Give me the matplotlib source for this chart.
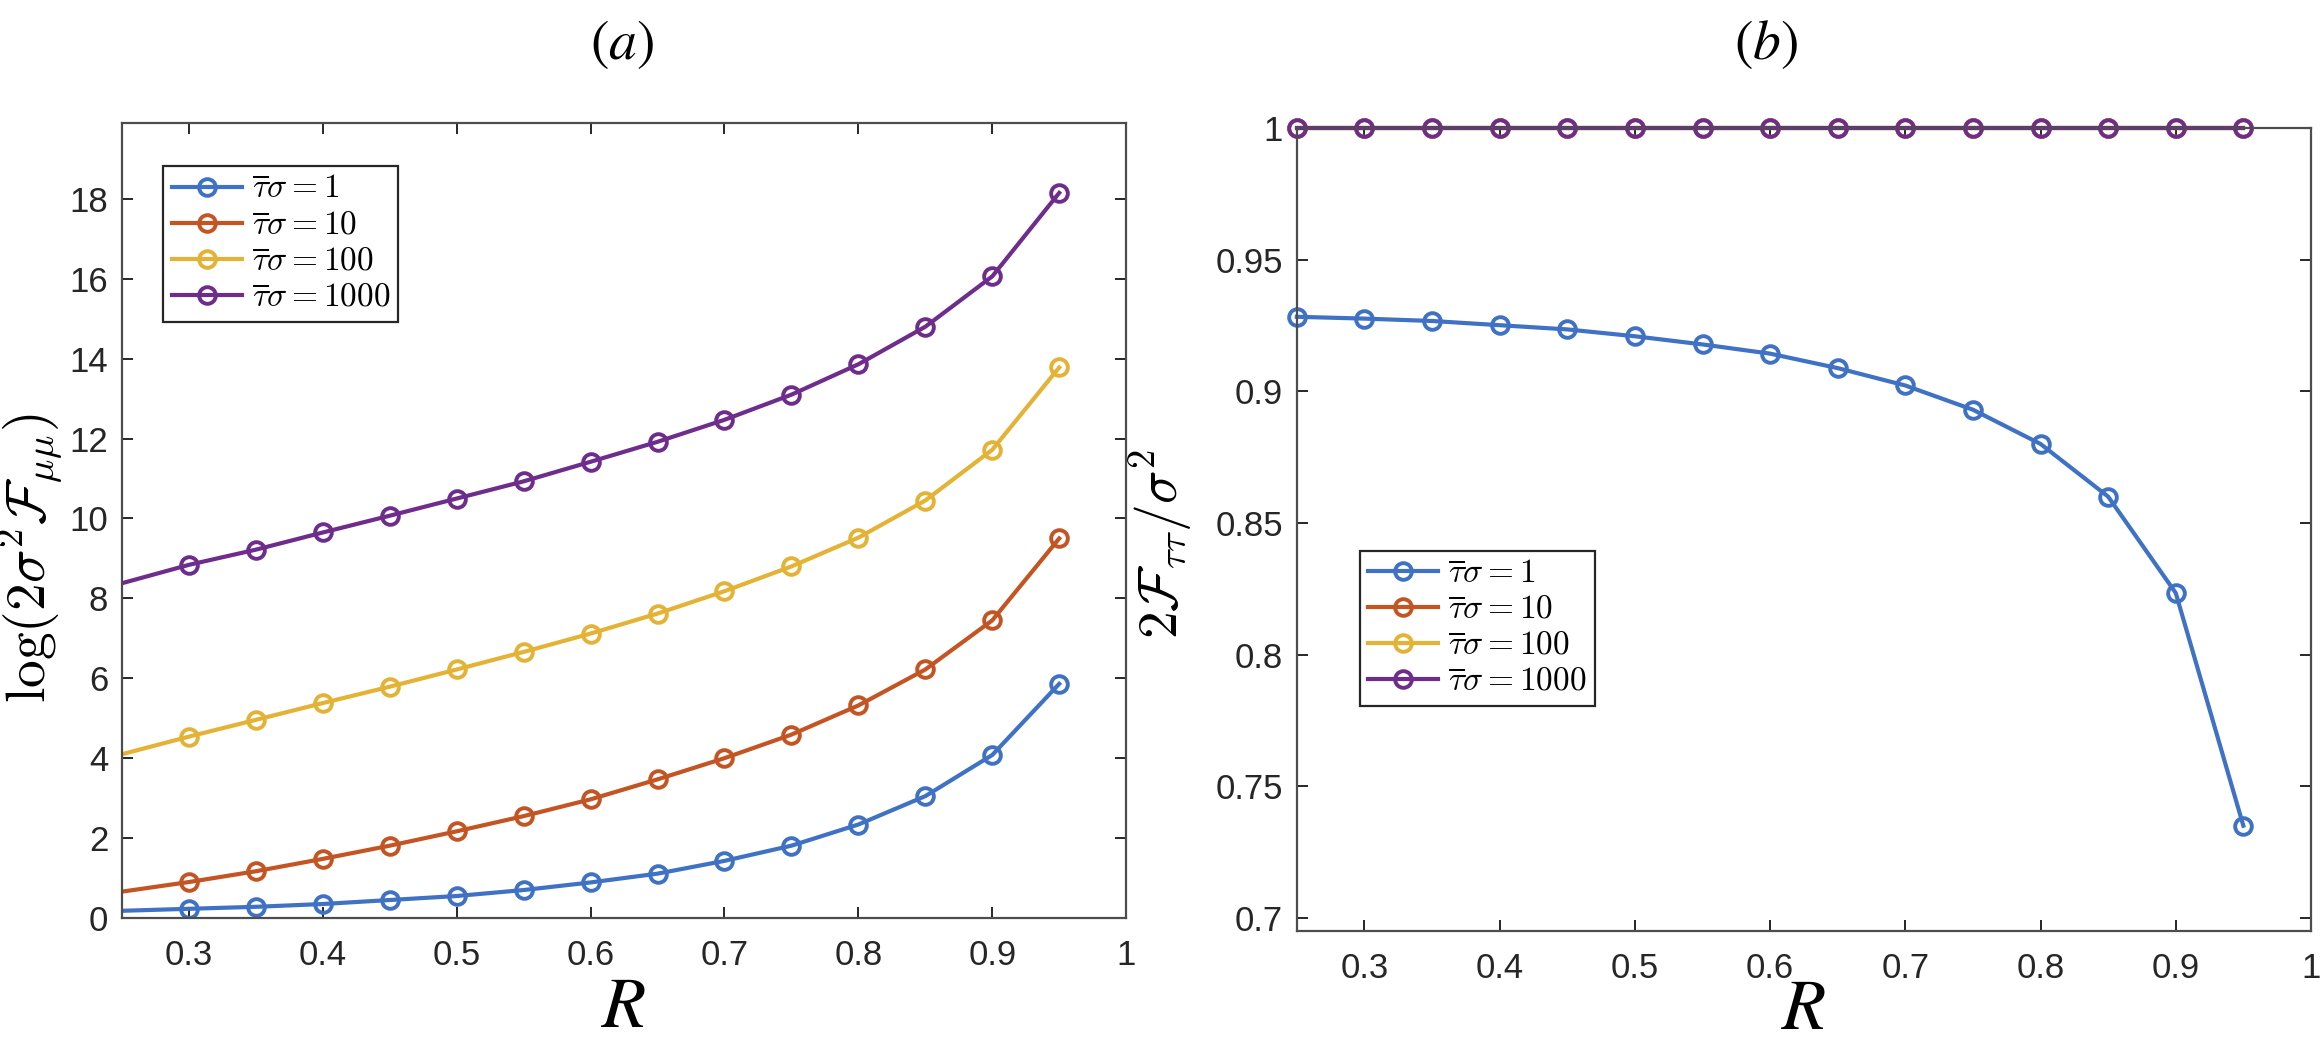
import matplotlib
matplotlib.use('Agg')
import matplotlib.pyplot as plt
import numpy as np

plt.rcParams['font.family'] = ['Liberation Sans', 'DejaVu Sans']

# R grid (left panel first value is read at the clipped left edge)
R_a = [0.25, 0.3, 0.35, 0.4, 0.45, 0.5, 0.55, 0.6, 0.65, 0.7, 0.75, 0.8, 0.85, 0.9, 0.95]
R_b = [0.25, 0.3, 0.35, 0.4, 0.45, 0.5, 0.55, 0.6, 0.65, 0.7, 0.75, 0.8, 0.85, 0.9, 0.95]

# (a) log(2 sigma^2 F_mumu)
a_1 = [0.18, 0.23, 0.28, 0.35, 0.45, 0.55, 0.70, 0.89, 1.11, 1.43, 1.81, 2.34, 3.05, 4.08, 5.86]
a_10 = [0.66, 0.90, 1.17, 1.48, 1.81, 2.17, 2.55, 2.97, 3.47, 4.00, 4.59, 5.32, 6.22, 7.45, 9.50]
a_100 = [4.10, 4.54, 4.96, 5.38, 5.79, 6.22, 6.66, 7.12, 7.62, 8.18, 8.80, 9.52, 10.45, 11.72, 13.78]
a_1000 = [8.38, 8.84, 9.22, 9.65, 10.07, 10.50, 10.93, 11.42, 11.92, 12.47, 13.10, 13.86, 14.80, 16.06, 18.15]

# (b) 2 F_tautau / sigma^2
b_1 = [0.9283, 0.9276, 0.9267, 0.9251, 0.9235, 0.9209, 0.9178, 0.9143, 0.9088, 0.9022, 0.8930, 0.8800, 0.8600, 0.8234, 0.7350]
b_10 = [1.0] * 15
b_100 = [1.0] * 15
b_1000 = [1.0] * 15

labels = [r'$\overline{\tau}\sigma = 1$', r'$\overline{\tau}\sigma = 10$',
          r'$\overline{\tau}\sigma = 100$', r'$\overline{\tau}\sigma = 1000$']
colors = ['#3f72c4', '#c55423', '#e4b234', '#6e2d8c']
xticks = [0.3, 0.4, 0.5, 0.6, 0.7, 0.8, 0.9, 1]
xticklabels = ['0.3', '0.4', '0.5', '0.6', '0.7', '0.8', '0.9', '1']

fig = plt.figure(figsize=(11.6, 5.22), dpi=200)
ax1 = fig.add_axes([0.0526, 0.1207, 0.4328, 0.7615])
ax2 = fig.add_axes([0.559, 0.1082, 0.4371, 0.7692])

line_kw = dict(marker='o', markersize=6, markerfacecolor='none',
               markeredgewidth=1.4, linewidth=1.5)

for y, c, lab in zip([a_1, a_10, a_100, a_1000], colors, labels):
    ax1.plot(R_a, y, color=c, label=lab, markevery=list(range(1, len(R_a))), **line_kw)

for y, c, lab in zip([b_1, b_10, b_100, b_1000], colors, labels):
    ax2.plot(R_b, y, color=c, label=lab, clip_on=False, **line_kw)

ax1.set_xlim(0.25, 1)
ax1.set_ylim(0, 19.9)
ax1.set_yticks(np.arange(0, 19, 2))
ax1.set_xticks(xticks)
ax1.set_xticklabels(xticklabels)

ax2.set_xlim(0.25, 1)
ax2.set_ylim(0.695, 1.0)
ax2.set_yticks([0.7, 0.75, 0.8, 0.85, 0.9, 0.95, 1])
ax2.set_yticklabels(['0.7', '0.75', '0.8', '0.85', '0.9', '0.95', '1'])
ax2.set_xticks(xticks)
ax2.set_xticklabels(xticklabels)

for ax in (ax1, ax2):
    ax.tick_params(direction='in', length=4, width=0.7, colors='#262626',
                   labelsize=12.5, top=True, right=True)
    ax.tick_params(axis='x', pad=7.5)
    ax.tick_params(axis='y', pad=5)
    for s in ax.spines.values():
        s.set_color('#4d4d4d')
        s.set_linewidth(0.8)

ax1.set_xlabel(r'$R$', fontsize=26, math_fontfamily='stix', labelpad=1)
ax2.set_xlabel(r'$R$', fontsize=26, math_fontfamily='stix', labelpad=-3)

ax1.set_ylabel(r'$\log(2\sigma^2\mathcal{F}_{\mu\mu})$', fontsize=20,
               math_fontfamily='cm')
ax1.yaxis.set_label_coords(-0.056, 0.452)
ax2.set_ylabel(r'$2\mathcal{F}_{\tau\tau}/\sigma^2$', fontsize=20,
               math_fontfamily='cm')
ax2.yaxis.set_label_coords(-0.1, 0.482)

leg_kw = dict(fontsize=12, fancybox=False, framealpha=1, edgecolor='#262626',
              handlelength=2.1, handletextpad=0.3, labelspacing=0.15,
              borderpad=0.25, borderaxespad=0)
leg1 = ax1.legend(loc='upper left', bbox_to_anchor=(0.041, 0.946), **leg_kw)
leg2 = ax2.legend(loc='lower left', bbox_to_anchor=(0.062, 0.28), **leg_kw)
for leg in (leg1, leg2):
    leg.get_frame().set_linewidth(0.8)
    for t in leg.get_texts():
        t.set_math_fontfamily('cm')

fig.text(0.268, 0.957, r'$(a)$', fontsize=20, math_fontfamily='stix',
         ha='center', va='center')
fig.text(0.761, 0.957, r'$(b)$', fontsize=20, math_fontfamily='stix',
         ha='center', va='center')

fig.savefig('out.png', dpi=200)
